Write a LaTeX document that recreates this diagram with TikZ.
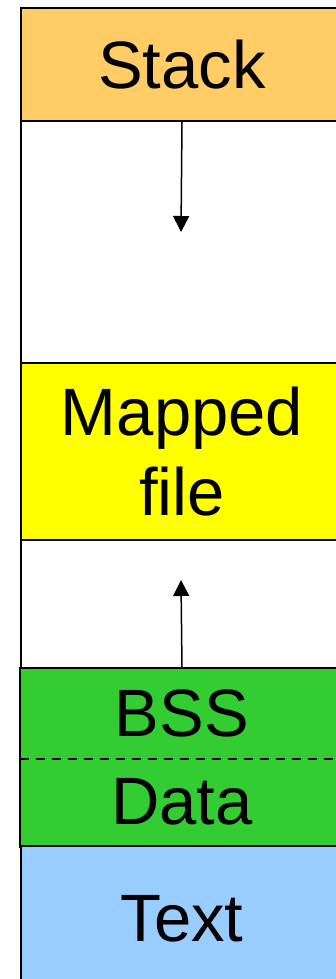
\documentclass[tikz,border=0pt]{standalone}
\usepackage{fontspec}
\setmainfont{Liberation Sans}
\usetikzlibrary{arrows.meta}
\definecolor{stackc}{HTML}{FFCC66}
\definecolor{mapc}{HTML}{FFFF00}
\definecolor{greenc}{HTML}{33CC33}
\definecolor{textc}{HTML}{99CCFF}
\begin{document}
\begin{tikzpicture}[x=1pt,y=-1pt,
  seg/.style={draw=black, line width=2pt, rectangle, inner sep=0pt, anchor=north west,
    minimum width=322pt, font=\fontsize{67}{80}\selectfont, align=center},
  flat/.style={seg, draw=none},
  growarrow/.style={line width=1.5pt, -{Triangle[width=16pt,length=16pt]}},
  splitline/.style={line width=1.5pt, dash pattern=on 9pt off 7pt}]
\useasboundingbox (0,0) rectangle (336,979);
\node[seg, fill=stackc, minimum height=113pt] (stack) at (20,7) {Stack};
\node[seg, fill=white, minimum height=242pt] (gap1) at (20,120) {};
\node[seg, fill=mapc, minimum height=177pt] (mapped) at (20,362) {Mapped\\file};
\node[seg, fill=white, minimum height=129pt] (gap2) at (20,539) {};
\node[flat, fill=greenc, minimum height=89pt] (bss) at (20,668) {BSS};
\node[flat, fill=greenc, minimum height=88pt] (data) at (20,757) {Data};
\draw[line width=2pt] (bss.north west) rectangle (data.south east);
\node[seg, fill=textc, minimum height=145pt] (text) at (20,845) {Text};
\draw[splitline] (bss.south west) -- (bss.south east);
\coordinate (downtip) at (181,232);
\coordinate (uptip) at (181,580);
\draw[growarrow] (stack.south) -- (downtip);
\draw[growarrow] (bss.north) -- (uptip);
\end{tikzpicture}
\end{document}
